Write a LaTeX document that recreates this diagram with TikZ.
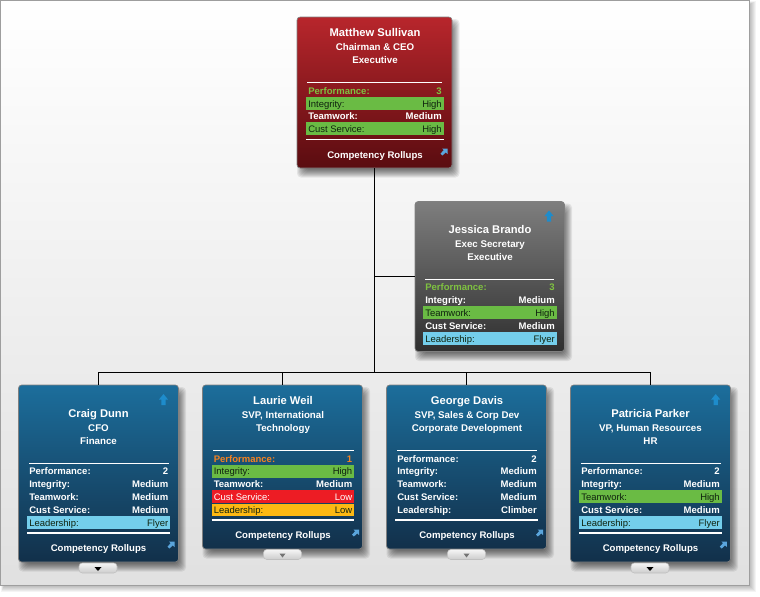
\documentclass[tikz,border=0pt]{standalone}
\usepackage{fontspec}
\setmainfont{Liberation Sans}
\definecolor{redT}{HTML}{B8262C}\definecolor{redM}{HTML}{7C1017}\definecolor{redB}{HTML}{5A0C10}
\definecolor{grayT}{HTML}{7E7E7E}\definecolor{grayM}{HTML}{4C4C4C}\definecolor{grayB}{HTML}{2F2F2F}
\definecolor{bluT}{HTML}{1C6E9C}\definecolor{bluM}{HTML}{164264}\definecolor{bluB}{HTML}{12304A}
\definecolor{barG}{HTML}{6ABB44}\definecolor{barB}{HTML}{74CEEB}\definecolor{barR}{HTML}{ED1C24}\definecolor{barY}{HTML}{FDB913}
\definecolor{txtG}{HTML}{7FC241}\definecolor{txtO}{HTML}{F58220}\definecolor{darkT}{HTML}{10240F}
\definecolor{upA}{HTML}{1E8CCB}\definecolor{diagA}{HTML}{5AA5DC}
\tikzset{
  x=0.75pt,y=-0.75pt,
  cardbox/.style={draw=black!50,line width=0.5pt,rounded corners=2.4pt,inner sep=0,outer sep=0,anchor=north west},
  redcard/.style={cardbox,top color=redT,middle color=redM,bottom color=redB},
  graycard/.style={cardbox,top color=grayT,middle color=grayM,bottom color=grayB},
  blucard/.style={cardbox,top color=bluT,middle color=bluM,bottom color=bluB},
  conn/.style={draw=black,line width=1.1pt},
  nametxt/.style={text=white,inner sep=0,anchor=mid,font=\fontsize{8.4}{10}\selectfont\bfseries},
  titletxt/.style={text=white,inner sep=0,anchor=mid,font=\fontsize{7.3}{9}\selectfont\bfseries},
  rolluptxt/.style={text=white,inner sep=0,anchor=mid,font=\fontsize{7.2}{9}\selectfont\bfseries},
  lefttxt/.style={inner sep=0,anchor=mid west,font=\fontsize{7.15}{9}\selectfont\bfseries},
  righttxt/.style={inner sep=0,anchor=mid east,font=\fontsize{7.15}{9}\selectfont\bfseries},
  barlefttxt/.style={inner sep=0,anchor=mid west,font=\fontsize{7.1}{9}\selectfont},
  barrighttxt/.style={inner sep=0,anchor=mid east,font=\fontsize{7.1}{9}\selectfont},
}
% \card{name}{style}{left}{top}{right}{bottom}
\newcommand{\card}[6]{%
  \foreach \i in {0,1,2,3,4,5,6,7,8}{%
    \fill[black,opacity=0.075,rounded corners=3pt] (#3+8-\i,#4+10-\i) rectangle (#5-0.5+\i,#6+1.5+\i);}%
  \node[#2,minimum width={(#5-#3)*0.75pt},minimum height={(#6-#4)*0.75pt}] (#1) at (#3,#4) {};}
% \plainrow{card}{n}{y}{x0}{x1}{label}{value}{colour}
\newcommand{\plainrow}[8]{%
  \node[lefttxt,text=#8] (#1-l#2) at (#4,#3) {#6};
  \node[righttxt,text=#8] (#1-v#2) at (#5,#3) {#7};}
% \barrow{card}{n}{y}{x0}{x1}{label}{value}{bar}{text}
\newcommand{\barrow}[9]{%
  \fill[#8] (#4-2,#3-6.4) rectangle (#5+1.5,#3+6.4);
  \node[barlefttxt,text=#9] (#1-l#2) at (#4,#3) {#6};
  \node[barrighttxt,text=#9] (#1-v#2) at (#5,#3) {#7};}
\newcommand{\upmark}[2]{%
  \fill[upA] (#1,#2-5.5) -- (#1+4.5,#2) -- (#1+2.2,#2) -- (#1+2.2,#2+5.5) -- (#1-2.2,#2+5.5) -- (#1-2.2,#2) -- (#1-4.5,#2) -- cycle;}
\newcommand{\diagmark}[2]{%
  \fill[diagA] (#1+3.5,#2-3.5) -- (#1+3.5,#2+2) -- (#1+1.8,#2+0.4) -- (#1-1.6,#2+3.5) -- (#1-3.5,#2+1.6) -- (#1-0.3,#2-1.8) -- (#1-2,#2-3.5) -- cycle;}
% \tabmark{left}{top}{triangle colour}{triangle half width}
\newcommand{\tabmark}[4]{%
  \shade[top color=white!96!black,bottom color=black!20,draw=black!25,line width=0.4pt,rounded corners=2.5pt]
    (#1,#2-0.5) -- (#1,#2+9.5) -- (#1+38,#2+9.5) -- (#1+38,#2-0.5) -- cycle;
  \fill[#3] (#1+19-#4,#2+3.5) -- (#1+19+#4,#2+3.5) -- (#1+19,#2+7.5) -- cycle;}
\begin{document}
\begin{tikzpicture}
\useasboundingbox (0,0) rectangle (760,596);
\fill[white] (0,0) rectangle (760,596);
\foreach \i in {0,1,2,3,4,5,6}{\fill[black,opacity=0.045] (4-\i/2,4-\i/2) rectangle (750+\i,586+\i);}
\shade[top color=white,bottom color=black!12,draw=black!38,line width=0.75pt] (0.5,0.5) rectangle (749.5,585.5);

% ---------- cards
\card{m}{redcard}{297}{17}{452}{168}
\card{j}{graycard}{415}{201.5}{564.5}{351.5}
\card{c}{blucard}{18.5}{385}{178.5}{562}
\card{l}{blucard}{202.5}{385}{362.5}{549}
\card{g}{blucard}{386.5}{385}{546.5}{549}
\card{p}{blucard}{570.5}{385}{730.5}{562}

% ---------- connectors
\coordinate (bus) at (374.5,372.5);
\draw[conn] (m.south) -- (bus);
\draw[conn] (m.south) |- (j.west);
\draw[conn] (bus) -| (c.north);
\draw[conn] (bus) -| (l.north);
\draw[conn] (bus) -| (g.north);
\draw[conn] (bus) -| (p.north);

% ---------- Matthew
\node[nametxt] (m-name) at (375,32.5) {Matthew Sullivan};
\node[titletxt] (m-title) at (375,46.5) {Chairman \& CEO};
\node[titletxt] (m-dept) at (375,59.5) {Executive};
\draw[white,line width=0.75pt] (307,82) -- (442,82);
\plainrow{m}{1}{90.7}{308}{442}{Performance:}{3}{txtG}
\barrow{m}{2}{103.5}{308}{442}{Integrity:}{High}{barG}{darkT}
\plainrow{m}{3}{116}{308}{442}{Teamwork:}{Medium}{white}
\barrow{m}{4}{128.7}{308}{442}{Cust Service:}{High}{barG}{darkT}
\draw[white,line width=1.3pt] (306,139.5) -- (443.5,139.5);
\node[rolluptxt] (m-roll) at (375,155) {Competency Rollups};
\diagmark{444}{152}

% ---------- Jessica
\upmark{549}{216}
\node[nametxt] (j-name) at (490,229.5) {Jessica Brando};
\node[titletxt] (j-title) at (490,243.5) {Exec Secretary};
\node[titletxt] (j-dept) at (490,257) {Executive};
\draw[white,line width=0.75pt] (425,279.3) -- (553.5,279.3);
\plainrow{j}{1}{286.8}{425}{555}{Performance:}{3}{txtG}
\plainrow{j}{2}{299.7}{425}{555}{Integrity:}{Medium}{white}
\barrow{j}{3}{312.5}{425}{555}{Teamwork:}{High}{barG}{darkT}
\plainrow{j}{4}{325.6}{425}{555}{Cust Service:}{Medium}{white}
\barrow{j}{5}{338.5}{425}{555}{Leadership:}{Flyer}{barB}{darkT}

% ---------- Craig
\upmark{163.5}{399.5}
\node[nametxt] (c-name) at (98.5,413.5) {Craig Dunn};
\node[titletxt] (c-title) at (98.5,428) {CFO};
\node[titletxt] (c-dept) at (98.5,441) {Finance};
\draw[white,line width=0.75pt] (29,463.3) -- (168.5,463.3);
\plainrow{c}{1}{470.8}{29}{168.5}{Performance:}{2}{white}
\plainrow{c}{2}{484}{29}{168.5}{Integrity:}{Medium}{white}
\plainrow{c}{3}{496.8}{29}{168.5}{Teamwork:}{Medium}{white}
\plainrow{c}{4}{509.6}{29}{168.5}{Cust Service:}{Medium}{white}
\barrow{c}{5}{522.6}{29}{168.5}{Leadership:}{Flyer}{barB}{darkT}
\draw[white,line width=1.3pt] (27,533) -- (170,533);
\node[rolluptxt] (c-roll) at (98.5,547.7) {Competency Rollups};
\diagmark{171}{545}
\tabmark{79}{563.5}{black}{3.5}

% ---------- Laurie
\node[nametxt] (l-name) at (283,400.5) {Laurie Weil};
\node[titletxt] (l-title) at (283,414.7) {SVP, International};
\node[titletxt] (l-dept) at (283,428) {Technology};
\draw[white,line width=0.75pt] (213,450.3) -- (353.5,450.3);
\plainrow{l}{1}{458.7}{213.5}{352.5}{Performance:}{1}{txtO}
\barrow{l}{2}{471.2}{213.5}{352.5}{Integrity:}{High}{barG}{darkT}
\plainrow{l}{3}{483.8}{213.5}{352.5}{Teamwork:}{Medium}{white}
\barrow{l}{4}{496.8}{213.5}{352.5}{Cust Service:}{Low}{barR}{white}
\barrow{l}{5}{510}{213.5}{352.5}{Leadership:}{Low}{barY}{darkT}
\draw[white,line width=1.3pt] (211.5,520) -- (354,520);
\node[rolluptxt] (l-roll) at (283,534.7) {Competency Rollups};
\diagmark{355.5}{533}
\tabmark{263.5}{550}{black!55}{3}

% ---------- George
\node[nametxt] (g-name) at (467,400.5) {George Davis};
\node[titletxt] (g-title) at (467,414.7) {SVP, Sales \& Corp Dev};
\node[titletxt] (g-dept) at (467,428) {Corporate Development};
\draw[white,line width=0.75pt] (397,450.3) -- (536.5,450.3);
\plainrow{g}{1}{458.7}{397}{537}{Performance:}{2}{white}
\plainrow{g}{2}{471}{397}{537}{Integrity:}{Medium}{white}
\plainrow{g}{3}{483.8}{397}{537}{Teamwork:}{Medium}{white}
\plainrow{g}{4}{496.8}{397}{537}{Cust Service:}{Medium}{white}
\plainrow{g}{5}{510}{397}{537}{Leadership:}{Climber}{white}
\draw[white,line width=1.3pt] (395,520) -- (538,520);
\node[rolluptxt] (g-roll) at (467,534.7) {Competency Rollups};
\diagmark{539.5}{533}
\tabmark{447.5}{550}{black!55}{3}

% ---------- Patricia
\upmark{715.7}{399.5}
\node[nametxt] (p-name) at (650.5,413.5) {Patricia Parker};
\node[titletxt] (p-title) at (650.5,428) {VP, Human Resources};
\node[titletxt] (p-dept) at (650.5,441) {HR};
\draw[white,line width=0.75pt] (581,463.3) -- (720.5,463.3);
\plainrow{p}{1}{470.8}{581}{720}{Performance:}{2}{white}
\plainrow{p}{2}{484}{581}{720}{Integrity:}{Medium}{white}
\barrow{p}{3}{496.8}{581}{720}{Teamwork:}{High}{barG}{darkT}
\plainrow{p}{4}{509.6}{581}{720}{Cust Service:}{Medium}{white}
\barrow{p}{5}{522.6}{581}{720}{Leadership:}{Flyer}{barB}{darkT}
\draw[white,line width=1.3pt] (579,533) -- (722,533);
\node[rolluptxt] (p-roll) at (650.5,547.7) {Competency Rollups};
\diagmark{723.3}{545}
\tabmark{631}{563.5}{black}{3.5}
\end{tikzpicture}
\end{document}
